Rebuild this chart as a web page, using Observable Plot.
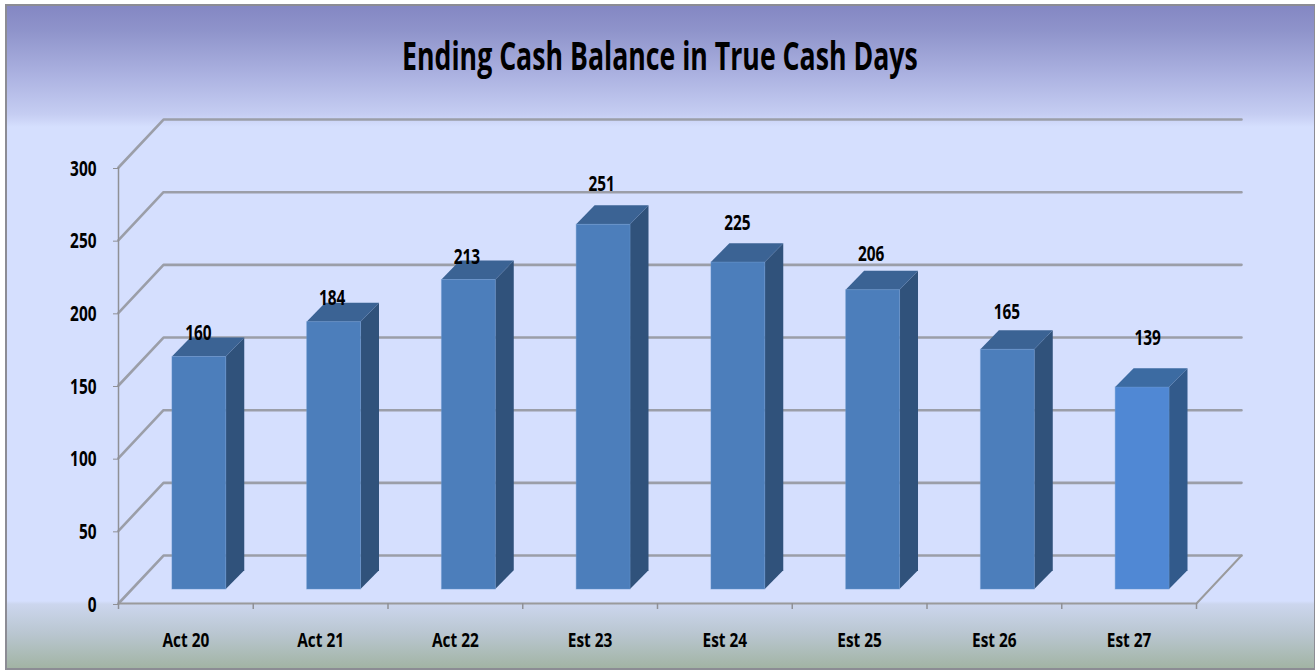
<!DOCTYPE html>
<html>
<head>
<meta charset="utf-8">
<script src="https://cdn.jsdelivr.net/npm/d3@7"></script>
<script src="https://cdn.jsdelivr.net/npm/@observablehq/plot@0.6"></script>
<style>
html,body{margin:0;padding:0;background:#fff;}
#frame{position:relative;width:1316px;height:671px;box-sizing:border-box;overflow:hidden;}
#bg{position:absolute;left:5px;top:4px;width:1310px;height:666px;box-sizing:border-box;border:2px solid #8c8c94;border-right-width:1px;
background:linear-gradient(180deg,#8487c3 0px,#8f94cb 25px,#a9afdf 65px,#c5cdf2 108px,#d0d9fa 117px,#d5dffe 121px,#d5dffe 595px,#ccd6ee 598px,#b9c6d0 628px,#a2b4a4 662px);}
#title{position:absolute;left:0;top:28px;width:1320px;text-align:center;font:bold 39px "Open Sans",sans-serif;color:#000;white-space:nowrap;}
#title span{display:inline-block;transform:scaleX(0.684);}
#chart{position:absolute;left:0;top:100px;}
svg{background:transparent!important;overflow:visible;}
</style>
</head>
<body>
<div id="frame">
<div id="bg"></div>
<div id="title"><span>Ending Cash Balance in True Cash Days</span></div>
<div id="chart"></div>
</div>
<script>
const categories = ["Act 20","Act 21","Act 22","Est 23","Est 24","Est 25","Est 26","Est 27"];
const values = [160,184,213,251,225,206,165,139];
const yTicks = [0,50,100,150,200,250,300];
const frontColors = ["#4c7ebb","#4c7ebb","#4c7ebb","#4c7ebb","#4c7ebb","#4c7ebb","#4c7ebb","#5088d4"];
const sideColors = ["#30527b","#30527b","#30527b","#30527b","#30527b","#30527b","#30527b","#325a8b"];
const topColors = ["#3b6394","#3b6394","#3b6394","#3b6394","#3b6394","#3b6394","#3b6394","#3c6ba2"];
const labelOffsetsX = [-1,-2,-2,-2,-1,-2,-1,5];
const labelOffsetsY = [24,24,23,41,40,36,38,50];

// 3D projection expressed in the units of the x and y scales
const wallX = 0.334, wallY = 33;
const barLeft = 0.4, barRight = 0.8, barBase = 9.6, barDepthX = 0.137, barDepthY = 13;

const bars = categories.map((c,i)=>({c,i,v:values[i]}));
const wallLines = yTicks.flatMap(v=>[
  {v,x:0,y:v},{v,x:wallX,y:v+wallY},{v,x:8+wallX,y:v+wallY}
]);
const floorEdge = [{x:0,y:0},{x:8,y:0},{x:8+wallX,y:wallY}];
const sideFaces = bars.flatMap(b=>[
  {c:b.c,x:b.i+barRight,y1:barBase,y2:barBase+b.v,fill:sideColors[b.i]},
  {c:b.c,x:b.i+barRight+barDepthX,y1:barBase+barDepthY,y2:barBase+barDepthY+b.v,fill:sideColors[b.i]}
]);
const topFaces = bars.flatMap(b=>[
  {c:b.c,y:barBase+b.v,x1:b.i+barLeft,x2:b.i+barRight,fill:topColors[b.i]},
  {c:b.c,y:barBase+b.v+barDepthY,x1:b.i+barLeft+barDepthX,x2:b.i+barRight+barDepthX,fill:topColors[b.i]}
]);
const font = '"Open Sans",sans-serif';

const plot = Plot.plot({
  width:1316, height:571,
  marginLeft:118, marginRight:120, marginTop:67, marginBottom:68,
  x:{domain:[0,8], axis:null},
  y:{domain:[0,300], axis:null},
  color:{type:"identity"},
  style:{background:"transparent", overflow:"visible"},
  marks:[
    Plot.line(wallLines,{x:"x",y:"y",z:"v",stroke:"#9b9ea8",strokeWidth:2.6,curve:"linear",strokeLinejoin:"miter"}),
    Plot.line(floorEdge,{x:"x",y:"y",stroke:"#9a9a9c",strokeWidth:2}),
    Plot.ruleX([0],{y1:0,y2:300,stroke:"#8f9096",strokeWidth:1.5}),
    Plot.axisY({ticks:yTicks,tickSize:5,tickPadding:17,label:null,fontSize:22,fontWeight:"bold",fontFamily:font,stroke:"#8f9096",color:"#000",dy:1,className:"narrow-y"}),
    Plot.axisX({ticks:d3.range(0,9),tickSize:6,tickFormat:()=>"",label:null,stroke:"#8f9096",strokeWidth:1.5}),
    Plot.axisX({ticks:d3.range(0,8).map(i=>i+0.5),tickSize:0,tickPadding:29,label:null,tickFormat:d=>categories[d-0.5],fontSize:20,fontWeight:"bold",fontFamily:font,color:"#000",className:"narrow-x"}),
    Plot.area(sideFaces,{x1:"x",y1:"y1",y2:"y2",z:"c",fill:"fill"}),
    Plot.area(topFaces,{y1:"y",x1:"x1",x2:"x2",z:"c",fill:"fill"}),
    Plot.rect(bars,{x1:d=>d.i+barLeft,x2:d=>d.i+barRight,y1:barBase,y2:d=>barBase+d.v,fill:d=>frontColors[d.i],stroke:"#6f9bd2",strokeWidth:1,strokeOpacity:0.4}),
    ...bars.map(b=>Plot.text([b],{
      x:d=>d.i+barLeft+(barRight-barLeft)/2,
      y:d=>barBase+d.v,
      text:d=>String(d.v),
      dx:labelOffsetsX[b.i],dy:-labelOffsetsY[b.i],
      fontSize:22,fontWeight:"bold",fontFamily:font,fill:"#000",className:"narrow-y"
    }))
  ]
});
document.getElementById("chart").appendChild(plot);
// Condense the label glyphs: the reference uses a narrow face that is not installed.
function condense(selector, factor){
  plot.querySelectorAll(selector).forEach(t=>{
    const len = t.getComputedTextLength();
    if(len>0){
      t.setAttribute("textLength", (len*factor).toFixed(1));
      t.setAttribute("lengthAdjust","spacingAndGlyphs");
    }
  });
}
condense(".narrow-y text",0.7);
condense(".narrow-x text",0.77);
</script>
</body>
</html>
